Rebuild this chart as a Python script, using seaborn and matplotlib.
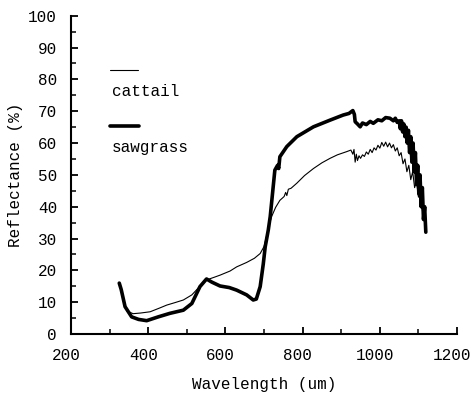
import numpy as np
import pandas as pd
import matplotlib
matplotlib.use("Agg")
import matplotlib.pyplot as plt
from matplotlib.transforms import ScaledTranslation
import seaborn as sns

sns.set_theme(style="white")
plt.rcParams['font.family'] = ['Liberation Mono', 'DejaVu Sans Mono']

# ---- data ----
wl_cattail = [335, 345, 361, 380, 405, 430, 448, 470, 491, 513, 530, 551, 570, 586,
              612, 629, 655, 675, 690, 700, 707, 715, 720, 730, 741, 752, 756, 759,
              763, 770, 785, 805, 828, 850, 871, 890, 914, 925, 930, 933, 936, 939,
              942, 946, 950, 955, 960, 965, 970, 975, 980, 985, 990, 995, 1000, 1005,
              1010, 1015, 1020, 1025, 1030, 1035, 1040, 1045, 1050, 1055, 1060, 1065,
              1070, 1075, 1080, 1085, 1090, 1095, 1100, 1105, 1110, 1115]
refl_cattail = [10.5, 7.2, 6.4, 6.6, 7.0, 8.2, 9.1, 9.9, 10.7, 12.3, 14.5, 17.0, 17.8, 18.5,
                19.8, 21.1, 22.5, 23.8, 25.3, 27.5, 31.0, 35.0, 37.0, 39.8, 42.0, 43.2, 44.5, 43.5,
                45.5, 45.8, 47.4, 49.8, 52.0, 53.8, 55.2, 56.3, 57.3, 57.8, 56.5, 58.0, 54.0, 56.5,
                54.5, 56.0, 55.2, 56.3, 55.8, 57.2, 56.5, 58.0, 57.0, 58.5, 57.8, 59.3, 58.4, 60.2,
                59.0, 60.3, 58.8, 60.0, 58.5, 59.5, 57.5, 58.5, 56.0, 57.0, 53.5, 55.0,
                51.0, 53.0, 48.5, 51.0, 46.0, 48.0, 43.0, 45.0, 39.0, 36.0]

wl_sawgrass = [325, 330, 340, 357, 375, 396, 426, 456, 491, 513, 534, 551, 565, 586,
               610, 629, 655, 672, 680, 690, 698, 703, 711, 716, 728, 735, 738, 741,
               759, 785, 828, 871, 905, 920, 930, 934, 936, 942, 949, 955, 965, 975,
               983, 995, 1005, 1015, 1026, 1035, 1040, 1045, 1050, 1053, 1056, 1059,
               1062, 1065, 1068, 1071, 1074, 1077, 1080, 1083, 1086, 1089, 1092, 1095,
               1098, 1101, 1104, 1107, 1110, 1113, 1116, 1119]
refl_sawgrass = [16.0, 14.0, 8.6, 5.4, 4.6, 4.2, 5.4, 6.5, 7.5, 9.6, 14.9, 17.3, 16.3, 15.1,
                 14.6, 13.8, 12.3, 10.7, 11.0, 14.9, 22.0, 27.4, 32.7, 36.9, 51.5, 53.0, 52.0, 55.7,
                 58.9, 62.0, 65.1, 67.2, 68.8, 69.3, 70.2, 69.0, 66.7, 66.0, 65.1, 66.3, 65.8, 66.8,
                 66.2, 67.3, 67.0, 68.0, 67.8, 67.0, 67.8, 66.5, 67.0, 64.5, 67.0, 63.5,
                 66.0, 62.0, 65.0, 60.0, 64.0, 57.0, 62.0, 54.0, 60.0, 51.0, 57.0, 47.0,
                 53.0, 44.0, 50.0, 40.0, 46.0, 36.0, 40.0, 32.0]

series_names = ["cattail", "sawgrass"]
x_ticks_major = [200, 400, 600, 800, 1000, 1200]
y_ticks_major = [0, 10, 20, 30, 40, 50, 60, 70, 80, 90, 100]

df_c = pd.DataFrame({"wl": wl_cattail, "refl": refl_cattail})
df_s = pd.DataFrame({"wl": wl_sawgrass, "refl": refl_sawgrass})

fig = plt.figure(figsize=(4.74, 3.93), dpi=100)
ax = fig.add_axes([0.1498, 0.150, 0.8145, 0.810])

sns.lineplot(data=df_c, x="wl", y="refl", ax=ax, color="black", linewidth=0.8,
             estimator=None, sort=False)
sns.lineplot(data=df_s, x="wl", y="refl", ax=ax, color="black", linewidth=2.6,
             estimator=None, sort=False)

ax.set_xlim(200, 1200)
ax.set_ylim(0, 100)
ax.set_xticks(x_ticks_major)
ax.set_xticks(np.arange(300, 1200, 200), minor=True)
ax.set_yticks(y_ticks_major)
ax.set_yticks(np.arange(5, 100, 10), minor=True)
ax.tick_params(axis="both", which="major", direction="in", length=5, width=1.3,
               labelsize=11.5, pad=10, colors="black")
ax.tick_params(axis="both", which="minor", direction="in", length=3.5, width=1.3)
ax.tick_params(axis="x", which="both", bottom=True)
ax.tick_params(axis="y", which="both", left=True)

for side in ["top", "right"]:
    ax.spines[side].set_visible(False)
for side in ["left", "bottom"]:
    ax.spines[side].set_color("black")
    ax.spines[side].set_linewidth(1.5)

ax.set_xlabel("Wavelength (um)", fontsize=11.5, labelpad=10, color="black")
ax.set_ylabel("Reflectance (%)", fontsize=11.5, labelpad=4, color="black")

# x tick labels sit slightly left of their ticks in the reference
offset = ScaledTranslation(-5 / 100, 0, fig.dpi_scale_trans)
for lab in ax.get_xticklabels():
    lab.set_transform(lab.get_transform() + offset)

# legend drawn as in the reference: short line with label below it
ax.plot([0.101, 0.174], [0.829, 0.829], transform=ax.transAxes, color="black", linewidth=0.8)
ax.text(0.106, 0.763, series_names[0], transform=ax.transAxes, fontsize=11.5,
        va="center", ha="left", color="black")
ax.plot([0.101, 0.176], [0.653, 0.653], transform=ax.transAxes, color="black", linewidth=2.6)
ax.text(0.106, 0.587, series_names[1], transform=ax.transAxes, fontsize=11.5,
        va="center", ha="left", color="black")

ax.set_facecolor("white")
fig.savefig("out.png", dpi=100, facecolor="white")
